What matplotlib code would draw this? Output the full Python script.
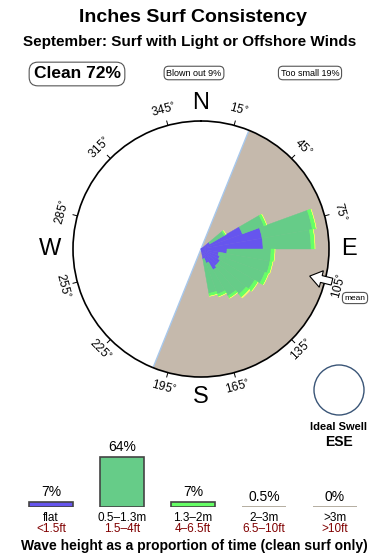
import matplotlib.pyplot as plt
import numpy as np
from matplotlib.patches import Circle, FancyArrow

plt.rcParams['font.family'] = ['Liberation Sans', 'DejaVu Sans']

# swell rose: direction bins (deg) and stacked lengths per wave-height class
directions = [55, 65, 75, 85, 95, 105, 115, 125, 135, 145, 155, 165]
rose_flat = [10, 44, 62, 62, 26, 18, 20, 22, 22, 24, 15, 10]
rose_small = [17, 23, 51, 48, 44, 52, 48, 40, 37, 30, 33, 35]
rose_mid = [2, 3, 4, 4, 4, 3, 4, 4, 4, 3, 3, 3]
rose_big = [0, 0, 0, 0, 0, 0, 0, 0, 1, 0, 0, 0]

# wave height histogram
height_pct = [7, 64, 7, 0.5, 0]
pct_labels = ['7%', '64%', '7%', '0.5%', '0%']
metre_labels = ['flat', '0.5\u20131.3m', '1.3\u20132m', '2\u20133m', '>3m']
feet_labels = ['<1.5ft', '1.5\u20134ft', '4\u20136.5ft', '6.5\u201310ft', '>10ft']

tick_bearings = [15, 45, 75, 105, 135, 165, 195, 225, 255, 285, 315, 345]
mean_dir = 104
offshore_from, offshore_to = 22, 202

c_flat = '#6655ee'
c_small = '#66cc88'
c_mid = '#66ff66'
c_big = '#ffff66'
c_beige = '#c5b9ac'
c_red = '#800000'

fig = plt.figure(figsize=(3.9, 5.6), dpi=100)

# overlay axes in pixel coordinates
ov = fig.add_axes([0, 0, 1, 1])
ov.set_xlim(0, 390)
ov.set_ylim(560, 0)
ov.axis('off')

ov.text(193, 18, 'Inches Surf Consistency', ha='center', va='center',
        fontsize=14, fontweight='bold')
ov.text(190, 42, 'September: Surf with Light or Offshore Winds', ha='center',
        va='center', fontsize=11, fontweight='bold')

def boxed(x, y, s, size, bold):
    ov.text(x, y, s, ha='center', va='center', fontsize=size,
            fontweight='bold' if bold else 'normal',
            bbox=dict(boxstyle='round,pad=0.25,rounding_size=0.5', fc='white',
                      ec='#555555', lw=0.8))

boxed(77, 74, 'Clean 72%', 12.5, True)
boxed(194, 73, 'Blown out 9%', 6.5, False)
boxed(310, 73, 'Too small 19%', 6.5, False)
boxed(355, 298, 'mean', 6, False)

ov.add_patch(Circle((339, 390), 25, fc='white', ec='#3a5577', lw=1))
ov.text(339, 427, 'Ideal Swell', ha='center', va='center', fontsize=8,
        fontweight='bold')
ov.text(339, 442, 'ESE', ha='center', va='center', fontsize=10,
        fontweight='bold')

# rose
cx, cy, R = 201, 249, 128
ax = fig.add_axes([(cx - R) / 390, (560 - cy - R) / 560, 2 * R / 390, 2 * R / 560],
                  projection='polar')
ax.set_theta_zero_location('N')
ax.set_theta_direction(-1)
ax.set_rlim(0, R)
ax.set_xticks([])
ax.set_yticks([])
ax.grid(False)
ax.spines['polar'].set_linewidth(1.2)

mid_sector = np.deg2rad((offshore_from + offshore_to) / 2)
ax.bar(mid_sector, R, width=np.deg2rad(offshore_to - offshore_from),
       color=c_beige, edgecolor='none', zorder=1)
for b in (offshore_from, offshore_to):
    ax.plot([np.deg2rad(b)] * 2, [0, R], color='#a8c8ec', lw=1, zorder=2)

th = np.deg2rad(directions)
w = np.deg2rad(10)
bottom = np.zeros(len(directions))
for vals, col in ((rose_flat, c_flat), (rose_small, c_small),
                  (rose_mid, c_mid), (rose_big, c_big)):
    ax.bar(th, vals, width=w, bottom=bottom, color=col, edgecolor=col,
           lw=0.3, zorder=3)
    bottom = bottom + np.array(vals)

for b in tick_bearings:
    t = np.deg2rad(b)
    ax.plot([t, t], [R, R * 1.035], color='black', lw=0.7,
            clip_on=False, zorder=4)
    rot = -b
    while rot <= -90:
        rot += 180
    while rot > 90:
        rot -= 180
    ax.text(t, R * 1.12, f'{b}$^{{\\circ}}$', ha='center', va='center',
            fontsize=8.5, rotation=rot, rotation_mode='anchor', clip_on=False)

for lab, b, rr in (('N', 0, 1.14), ('E', 90, 1.16), ('S', 180, 1.16), ('W', 270, 1.18)):
    ax.text(np.deg2rad(b), R * rr, lab, ha='center', va='center',
            fontsize=17, clip_on=False)

# mean direction arrow, drawn in the pixel overlay on top of the rose
ov2 = fig.add_axes([0, 0, 1, 1], zorder=5)
ov2.set_xlim(0, 390)
ov2.set_ylim(560, 0)
ov2.axis('off')
mb = np.deg2rad(mean_dir)
r_tail, r_tip = 135, 112
x0, y0 = cx + r_tail * np.sin(mb), cy - r_tail * np.cos(mb)
x1, y1 = cx + r_tip * np.sin(mb), cy - r_tip * np.cos(mb)
ov2.add_patch(FancyArrow(x0, y0, x1 - x0, y1 - y0, width=7, head_width=17,
                         head_length=12, length_includes_head=True,
                         fc='white', ec='black', lw=0.8))

# wave height bars
bx = fig.add_axes([15.5 / 390, (560 - 507) / 560, 355 / 390, 62.5 / 560])
bx.set_xlim(-0.5, 4.5)
bx.set_ylim(0, 80)
bx.axis('off')
pos = np.arange(len(height_pct))
face = [c_flat, c_small, c_mid, c_beige, c_beige]
edge = ['#444444', '#444444', '#444444', '#a8a090', '#a8a090']
bx.bar(pos, height_pct, width=0.63, color=face, edgecolor=edge, lw=1.2)
for i in pos:
    bx.annotate(pct_labels[i], xy=(i, height_pct[i]), xytext=(0, 3),
                textcoords='offset pixels', ha='center', va='bottom',
                fontsize=10, annotation_clip=False)
    bx.annotate(metre_labels[i], xy=(i, 0), xytext=(0, -11),
                textcoords='offset pixels', ha='center', va='center',
                fontsize=8.5, annotation_clip=False)
    bx.annotate(feet_labels[i], xy=(i, 0), xytext=(0, -22),
                textcoords='offset pixels', ha='center', va='center',
                fontsize=8.5, color=c_red, annotation_clip=False)

ov.text(194, 546, 'Wave height as a proportion of time (clean surf only)',
        ha='center', va='center', fontsize=10, fontweight='bold')

fig.savefig('out.png', dpi=100)
